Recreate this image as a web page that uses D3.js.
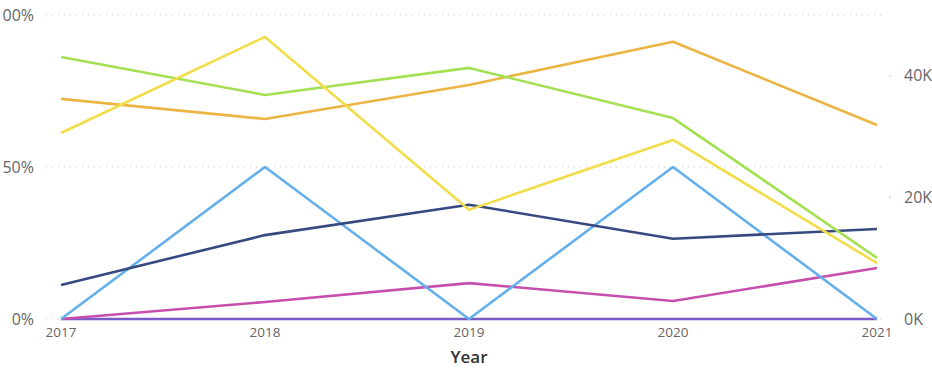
<!DOCTYPE html>
<html>
<head>
<meta charset="utf-8">
<script src="https://cdn.jsdelivr.net/npm/d3@7"></script>
<style>
  body { margin: 0; background: #fff; }
  svg { display: block; font-family: "Open Sans", "Noto Sans", sans-serif; }
</style>
</head>
<body>
<div id="chart"></div>
<script>
// Data
const years = [2017, 2018, 2019, 2020, 2021];

// series on the left (percent) axis
const greenPct = [0.862, 0.737, 0.826, 0.661, 0.201];
const yellowPct = [0.612, 0.928, 0.359, 0.589, 0.184];
const bluePct = [0, 0.5, 0, 0.5, 0];
const magentaPct = [0, 0.056, 0.118, 0.059, 0.168];
const purplePct = [0, 0, 0, 0, 0];

// series on the right (count) axis
const orangeCount = [36200, 32900, 38500, 45600, 31900];
const navyCount = [5600, 13800, 18800, 13200, 14800];

const leftTicks = [0, 0.5, 1];
const rightTicks = [0, 20000, 40000];

const width = 932;
const height = 368;
const margin = { top: 15, right: 55, bottom: 49, left: 61 };

const svg = d3.select("#chart")
    .append("svg")
    .attr("width", width)
    .attr("height", height);

const x = d3.scalePoint()
    .domain(years)
    .range([margin.left, width - margin.right]);

const yLeft = d3.scaleLinear()
    .domain([0, 1])
    .range([height - margin.bottom, margin.top]);

const yRight = d3.scaleLinear()
    .domain([0, 50000])
    .range([height - margin.bottom, margin.top]);

// dotted gridlines
svg.append("g")
    .selectAll("line")
    .data(leftTicks)
    .join("line")
    .attr("x1", 46)
    .attr("x2", width - margin.right + 4)
    .attr("y1", d => yLeft(d))
    .attr("y2", d => yLeft(d))
    .attr("stroke", "#c8c8c8")
    .attr("stroke-width", 1)
    .attr("stroke-dasharray", "1,5");

// right axis tiny tick dots
svg.append("g")
    .selectAll("circle")
    .data(rightTicks.slice(1))
    .join("circle")
    .attr("cx", 890)
    .attr("cy", d => yRight(d))
    .attr("r", 0.8)
    .attr("fill", "#c8c8c8");

// left axis labels (the 100% one runs past the left edge, as in the original)
svg.append("g")
    .selectAll("text")
    .data(leftTicks)
    .join("text")
    .attr("x", 34)
    .attr("y", d => yLeft(d))
    .attr("dy", "0.35em")
    .attr("text-anchor", "end")
    .attr("fill", "#666")
    .style("font-size", "16px")
    .text(d => d3.format(".0%")(d));

// right axis labels
svg.append("g")
    .selectAll("text")
    .data(rightTicks)
    .join("text")
    .attr("x", 904)
    .attr("y", d => yRight(d))
    .attr("dy", "0.35em")
    .attr("text-anchor", "start")
    .attr("fill", "#666")
    .style("font-size", "16px")
    .text(d => d === 0 ? "0K" : d3.format("~s")(d).replace("k", "K"));

// x axis labels
svg.append("g")
    .selectAll("text")
    .data(years)
    .join("text")
    .attr("x", d => x(d))
    .attr("y", height - margin.bottom + 18)
    .attr("text-anchor", "middle")
    .attr("fill", "#666")
    .style("font-size", "13.5px")
    .text(d => d);

// axis title
svg.append("text")
    .attr("x", x(2019))
    .attr("y", 363)
    .attr("text-anchor", "middle")
    .attr("fill", "#333")
    .style("font-size", "17px")
    .style("font-weight", "600")
    .text("Year");

// lines
const series = [
    { values: purplePct, axis: yLeft, color: "#7b5bc7" },
    { values: magentaPct, axis: yLeft, color: "#c64fae" },
    { values: bluePct, axis: yLeft, color: "#64b0ec" },
    { values: navyCount, axis: yRight, color: "#374a80" },
    { values: orangeCount, axis: yRight, color: "#ebb543" },
    { values: greenPct, axis: yLeft, color: "#a3e052" },
    { values: yellowPct, axis: yLeft, color: "#f2dd48" }
];

svg.append("g")
    .selectAll("path")
    .data(series)
    .join("path")
    .attr("fill", "none")
    .attr("stroke", d => d.color)
    .attr("stroke-width", 2.6)
    .attr("stroke-linejoin", "round")
    .attr("d", d => d3.line()
        .x((v, i) => x(years[i]))
        .y(v => d.axis(v))(d.values));
</script>
</body>
</html>
